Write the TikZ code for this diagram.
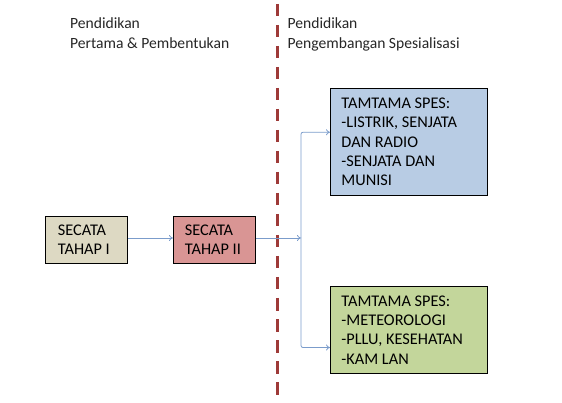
\documentclass[tikz,border=0pt]{standalone}
\usepackage{fontspec}
\setmainfont{Carlito}
\usetikzlibrary{arrows.meta,calc}
\definecolor{dashred}{HTML}{9E3A38}
\definecolor{arrowblue}{HTML}{7B9CCB}
\definecolor{fillA}{HTML}{DDD9C3}
\definecolor{fillB}{HTML}{D99594}
\definecolor{fillC}{HTML}{B8CCE4}
\definecolor{fillD}{HTML}{C3D69B}
\tikzset{
  box/.style={draw=black, line width=0.9pt, anchor=north west, inner sep=0pt,
    font=\fontsize{16.3}{19.3}\selectfont, align=left},
  hdr/.style={anchor=north west, inner sep=0pt, font=\fontsize{15.6}{20}\selectfont,
    align=left, text=black!85},
  arr/.style={draw=arrowblue, line width=0.8pt, -{To[length=4pt,width=6pt]}},
}
\begin{document}
\begin{tikzpicture}[x=1pt,y=-1pt]
\useasboundingbox (0,0) rectangle (562,403);
% headers
\node[hdr] (h1) at (70,17.5) {Pendidikan\\Pertama \& Pembentukan};
\node[hdr] (h2) at (287.5,17.5) {Pendidikan\\Pengembangan Spesialisasi};
% divider
\coordinate (dtop) at (277,4);
\coordinate (dbot) at (277,396);
\draw[dashred, line width=3pt, dash pattern=on 12.5pt off 8.5pt] (dtop) -- (dbot);
% boxes
\node[box, fill=fillA, minimum width=82pt, minimum height=47pt] (b1) at (45,216)
  {\hspace*{11pt}\parbox[c]{68pt}{SECATA\\TAHAP I}};
\node[box, fill=fillB, minimum width=82pt, minimum height=47pt] (b2) at (173,216)
  {\hspace*{10pt}\parbox[c]{69pt}{SECATA\\TAHAP II}};
\node[box, fill=fillC, minimum width=157pt, minimum height=107pt] (b3) at (330,88)
  {\hspace*{10pt}\parbox[c]{145pt}{TAMTAMA SPES:\\-LISTRIK, SENJATA\\DAN RADIO\\-SENJATA DAN\\MUNISI}};
\node[box, fill=fillD, minimum width=157pt, minimum height=87pt] (b4) at (330,286)
  {\hspace*{10pt}\parbox[c]{145pt}{TAMTAMA SPES:\\-METEOROLOGI\\-PLLU, KESEHATAN\\-KAM LAN}};
% connectors
\coordinate (j) at (301,238);
\coordinate (t3) at ($(b3.north west)!0.41!(b3.south west)$);
\coordinate (t4) at ($(b4.north west)!0.70!(b4.south west)$);
\draw[arr] (b1.east |- j) -- (b2.west |- j);
\draw[arr] (b2.east |- j) -- (j);
\draw[arr, rounded corners=2pt] (j) |- (t3);
\draw[arr, rounded corners=2pt] (j) |- (t4);
\end{tikzpicture}
\end{document}
